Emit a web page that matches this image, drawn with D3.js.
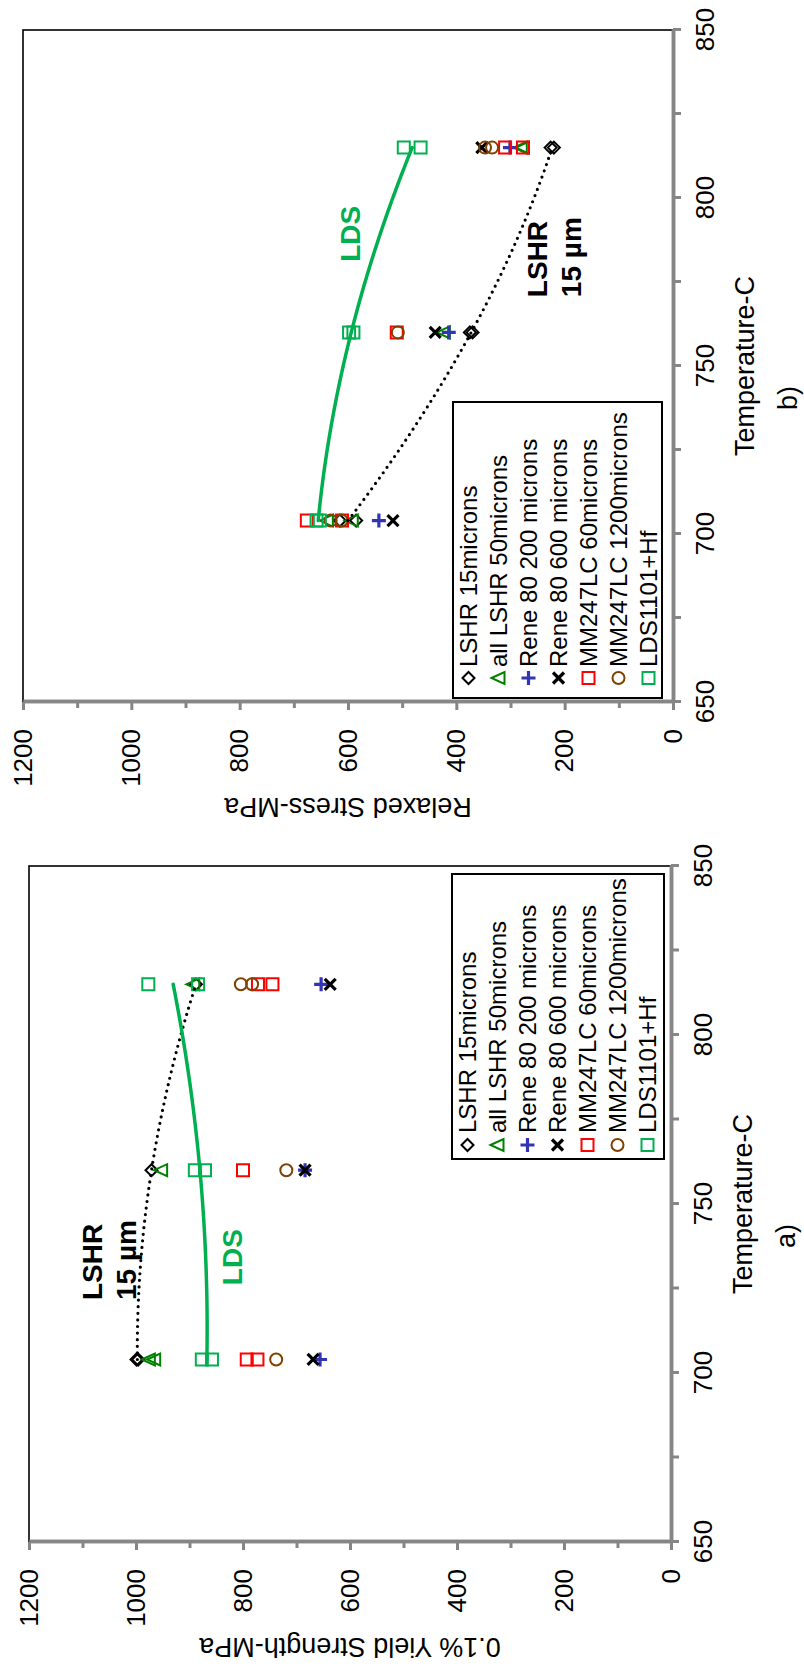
<!DOCTYPE html>
<html>
<head>
<meta charset="utf-8">
<script src="https://cdn.jsdelivr.net/npm/d3@7"></script>
<style>
  body { margin: 0; background: #fff; }
  svg { display: block; font-family: "Liberation Sans", Arial, sans-serif; }
</style>
</head>
<body>
<script>
// legend / series setup
const seriesNames = ['LSHR 15microns', 'all LSHR 50microns', 'Rene 80 200 microns', 'Rene 80 600 microns',
                     'MM247LC 60microns', 'MM247LC 1200microns', 'LDS1101+Hf'];
const seriesColors = ['#000000', '#008000', '#3333B5', '#000000', '#FF0000', '#804000', '#00B050'];
const seriesShapes = ['diamond', 'triangle', 'plus', 'cross', 'square', 'circle', 'square'];

const tempTicks = [650, 700, 750, 800, 850];
const tempMinor = [675, 725, 775, 825];
const stressTicks = [0, 200, 400, 600, 800, 1000, 1200];
const stressMinor = [100, 300, 500, 700, 900, 1100];

// a) 0.1% yield strength  [temperature C, MPa]
const yieldLSHR15 = [[704, 999], [704, 996], [760, 971], [815, 888]];
const yieldLSHR50 = [[704, 976], [704, 966], [760, 953], [815, 893]];
const yieldRene200 = [[704, 656], [760, 684], [815, 654]];
const yieldRene600 = [[704, 669], [760, 684], [815, 637]];
const yieldMM60 = [[704, 793], [704, 773], [760, 800], [815, 772], [815, 745]];
const yieldMM1200 = [[704, 738], [760, 719], [815, 804], [815, 783]];
const yieldLDS = [[704, 877], [704, 858], [760, 890], [760, 871], [815, 977], [815, 884]];

// b) relaxed stress
const relaxLSHR15 = [[704, 615], [704, 585], [760, 375], [760, 370], [815, 226], [815, 220]];
const relaxLSHR50 = [[704, 639], [704, 593], [760, 423], [815, 281], [815, 277]];
const relaxRene200 = [[704, 543], [760, 414], [815, 301]];
const relaxRene600 = [[704, 517], [760, 439], [815, 353]];
const relaxMM60 = [[704, 676], [704, 611], [760, 510], [815, 310], [815, 277]];
const relaxMM1200 = [[704, 632], [704, 612], [760, 508], [815, 347], [815, 334]];
const relaxLDS = [[704, 658], [704, 652], [760, 598], [760, 590], [815, 497], [815, 466]];

const panels = [
  { series: [relaxLSHR15, relaxLSHR50, relaxRene200, relaxRene600, relaxMM60, relaxMM1200, relaxLDS],
    left: 23, bottom: 702, w: 672, h: 650, yTitle: 'Relaxed Stress-MPa', letter: 'b)',
    legend: { x: 4, y: 430, w: 296, h: 209, mark: 20, text: 31 },
    labels: [{ t: 770.5, v: 233, lines: ['LSHR', '15 µm'], color: '#000' },
             { t: 781, v: 578, lines: ['LDS'], color: '#00B050' }] },
  { series: [yieldLSHR15, yieldLSHR50, yieldRene200, yieldRene600, yieldMM60, yieldMM1200, yieldLDS],
    left: 29, bottom: 1542, w: 676, h: 642, yTitle: '0.1% Yield Strength-MPa', letter: 'a)',
    legend: { x: 383, y: 423, w: 285, h: 212, mark: 14, text: 26 },
    labels: [{ t: 721.6, v: 1064, lines: ['LSHR', '15 µm'], color: '#000' },
             { t: 726, v: 802, lines: ['LDS'], color: '#00B050' }] }
];

const svg = d3.select('body').append('svg')
  .attr('width', 804)
  .attr('height', 1675);

function markerPath(shape) {
  const s = 6;
  if (shape === 'diamond') return `M0,${-s}L${s},0L0,${s}L${-s},0Z`;
  if (shape === 'triangle') return `M0,${-s - 1}L${s},${s}L${-s},${s}Z`;
  if (shape === 'square') return `M${-s},${-s}h${2 * s}v${2 * s}h${-2 * s}Z`;
  if (shape === 'plus') return 'M-7,0H7M0,-7V7';
  if (shape === 'cross') return 'M-5.5,-5.5L5.5,5.5M5.5,-5.5L-5.5,5.5';
  const p = d3.path();
  p.arc(0, 0, s, 0, 2 * Math.PI);
  return p.toString();
}

function drawMarker(sel, i) {
  const thick = seriesShapes[i] === 'plus' || seriesShapes[i] === 'cross';
  sel.attr('d', markerPath(seriesShapes[i]))
    .attr('fill', 'none')
    .attr('stroke', seriesColors[i])
    .attr('stroke-width', thick ? 3.2 : 2);
}

// least squares quadratic (excel poly 2 trendline)
function quadFit(pts) {
  const c = 760;
  const S = [0, 0, 0, 0, 0], T = [0, 0, 0];
  pts.forEach(([t, v]) => {
    const u = t - c;
    for (let k = 0; k < 5; k++) S[k] += Math.pow(u, k);
    for (let k = 0; k < 3; k++) T[k] += v * Math.pow(u, k);
  });
  const M = [[S[0], S[1], S[2], T[0]], [S[1], S[2], S[3], T[1]], [S[2], S[3], S[4], T[2]]];
  for (let i = 0; i < 3; i++) {
    for (let j = i + 1; j < 3; j++) {
      const f = M[j][i] / M[i][i];
      for (let k = i; k < 4; k++) M[j][k] -= f * M[i][k];
    }
  }
  const b = [0, 0, 0];
  for (let i = 2; i >= 0; i--) {
    let s = M[i][3];
    for (let k = i + 1; k < 3; k++) s -= M[i][k] * b[k];
    b[i] = s / M[i][i];
  }
  return t => b[0] + b[1] * (t - c) + b[2] * (t - c) * (t - c);
}

function drawPanel(p) {
  // chart drawn upright, then turned a quarter turn like the source figure
  const g = svg.append('g')
    .attr('transform', `translate(${p.left},${p.bottom}) rotate(-90)`);

  const x = d3.scaleLinear().domain([650, 850]).range([0, p.w]);
  const y = d3.scaleLinear().domain([0, 1200]).range([p.h, 0]);

  g.append('rect')
    .attr('width', p.w).attr('height', p.h)
    .attr('fill', 'none').attr('stroke', '#000').attr('stroke-width', 1.6);

  // axes
  const xMinor = g.append('g').attr('transform', `translate(0,${p.h})`)
    .call(d3.axisBottom(x).tickValues(tempMinor).tickSize(8).tickSizeOuter(0).tickFormat(''));
  const xAxis = g.append('g').attr('transform', `translate(0,${p.h})`)
    .call(d3.axisBottom(x).tickValues(tempTicks).tickSize(8).tickSizeOuter(0).tickPadding(15)
      .tickFormat(d3.format('d')));
  const yMinor = g.append('g')
    .call(d3.axisLeft(y).tickValues(stressMinor).tickSize(6).tickSizeOuter(0).tickFormat(''));
  const yAxis = g.append('g')
    .call(d3.axisLeft(y).tickValues(stressTicks).tickSize(8).tickSizeOuter(0).tickPadding(19)
      .tickFormat(d3.format('d')));

  [xMinor, xAxis, yMinor, yAxis].forEach(a => {
    a.select('.domain').attr('stroke', '#868686').attr('stroke-width', 3.5);
    a.selectAll('.tick line').attr('stroke', '#868686').attr('stroke-width', 3);
    a.selectAll('.tick text').attr('fill', '#000').style('font-size', '26px');
  });

  g.append('text')
    .attr('x', p.w / 2).attr('y', p.h + 81)
    .attr('text-anchor', 'middle')
    .style('font-size', '27px')
    .text('Temperature-C');
  g.append('text')
    .attr('x', p.w / 2 - 32).attr('y', p.h + 124)
    .attr('text-anchor', 'middle')
    .style('font-size', '27px')
    .text(p.letter);
  g.append('text')
    .attr('transform', `translate(-96,${p.h / 2}) rotate(-90)`)
    .attr('text-anchor', 'middle')
    .style('font-size', '27px')
    .text(p.yTitle);

  // points
  p.series.forEach((pts, i) => {
    g.append('g').selectAll('path')
      .data(pts)
      .enter()
      .append('path')
      .attr('transform', d => `translate(${x(d[0])},${y(d[1])})`)
      .call(drawMarker, i);
  });

  // trendlines
  const trends = [{ pts: p.series[0], dotted: true, color: '#000' },
                  { pts: p.series[6], dotted: false, color: '#00B050' }];
  trends.forEach(tr => {
    const f = quadFit(tr.pts);
    const ext = d3.extent(tr.pts, d => d[0]);
    const line = d3.line().x(t => x(t)).y(t => y(f(t)));
    g.append('path')
      .attr('d', line(d3.range(ext[0], ext[1] + 0.5, 1)))
      .attr('fill', 'none')
      .attr('stroke', tr.color)
      .attr('stroke-width', tr.dotted ? 3.2 : 3.5)
      .attr('stroke-linecap', 'round')
      .attr('stroke-dasharray', tr.dotted ? '0 6.6' : null);
  });

  // labels on curves
  p.labels.forEach(lb => {
    const t = g.append('text')
      .attr('x', x(lb.t)).attr('y', y(lb.v))
      .attr('fill', lb.color)
      .style('font-size', '28px')
      .style('font-weight', 'bold');
    lb.lines.forEach((s, k) => {
      t.append('tspan').attr('x', x(lb.t)).attr('dy', k === 0 ? 0 : 34).text(s);
    });
  });

  // legend
  const L = p.legend;
  const lg = g.append('g').attr('transform', `translate(${L.x},${L.y})`);
  lg.append('rect')
    .attr('width', L.w).attr('height', L.h)
    .attr('fill', '#fff').attr('stroke', '#000').attr('stroke-width', 2);
  seriesNames.forEach((name, i) => {
    const cy = 15.5 + 30 * i;
    lg.append('path')
      .attr('transform', `translate(${L.mark},${cy})`)
      .call(drawMarker, i);
    lg.append('text')
      .attr('x', L.text).attr('y', cy)
      .attr('dy', '0.35em')
      .style('font-size', '24px')
      .text(name);
  });
}

panels.forEach(drawPanel);
</script>
</body>
</html>
